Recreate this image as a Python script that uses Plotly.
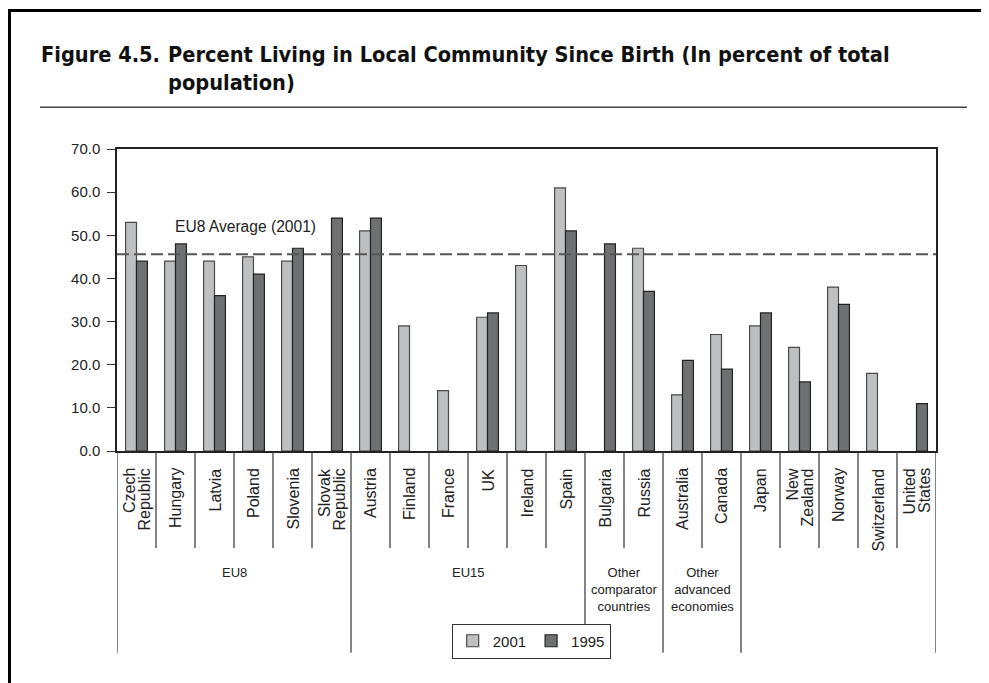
import plotly.graph_objects as go

countries = ["Czech<br>Republic", "Hungary", "Latvia", "Poland", "Slovenia", "Slovak<br>Republic",
             "Austria", "Finland", "France", "UK", "Ireland", "Spain",
             "Bulgaria", "Russia", "Australia", "Canada",
             "Japan", "New<br>Zealand", "Norway", "Switzerland", "United<br>States"]
v2001 = [53, 44, 44, 45, 44, None, 51, 29, 14, 31, 43, 61, None, 47, 13, 27, 29, 24, 38, 18, None]
v1995 = [44, 48, 36, 41, 47, 54, 54, None, None, 32, None, 51, 48, 37, 21, 19, 32, 16, 34, None, 11]
eu8_avg_2001 = 45.6
groups = ["EU8", "EU15", "Other<br>comparator<br>countries", "Other<br>advanced<br>economies", ""]
group_sizes = [6, 6, 2, 2, 5]
y_ticks = [0, 10, 20, 30, 40, 50, 60, 70]

# page body has an 8px margin; work in screen coordinates and offset
OFF = 8
W, H = 989 - OFF, 683 - OFF
PL, PR, PT, PB = 117, 936, 149, 451  # plot area in screen coords
L, T = PL - OFF, PT - OFF
R, B = W - (PR - OFF), H - (PB - OFF)
PW, PH = PR - PL, PB - PT


def px(x):
    return (x - PL) / PW


def py(y):
    return (PB - y) / PH


AR = "Liberation Sans, Arial, sans-serif"
TF = "Liberation Sans Narrow, DejaVu Sans Condensed, Arial Narrow, sans-serif"

cats = [c.replace("<br>", " ") for c in countries]

fig = go.Figure()
fig.add_bar(x=cats, y=v2001, name="2001",
            marker=dict(color="#bebfc1", line=dict(color="#4a4a4a", width=1.2)))
fig.add_bar(x=cats, y=v1995, name="1995",
            marker=dict(color="#6f7072", line=dict(color="#222222", width=1.2)))

shapes = []
bounds_group = [-0.5]
acc = -0.5
for s in group_sizes:
    acc += s
    bounds_group.append(acc)
for i in range(len(countries) + 1):
    b = i - 0.5
    long = b in bounds_group
    shapes.append(dict(type="line", xref="x", yref="paper", x0=b, x1=b, y0=0,
                       y1=py(652.7) if long else py(548), line=dict(color="#333", width=1.2)))
shapes.append(dict(type="line", xref="paper", yref="y", x0=0, x1=1, y0=eu8_avg_2001, y1=eu8_avg_2001,
                   line=dict(color="#555", width=2, dash="12px,5px"), layer="above"))
# frame
shapes.append(dict(type="line", xref="paper", yref="paper", x0=px(8), x1=px(1000), y0=py(10.5), y1=py(10.5),
                   line=dict(color="black", width=3)))
shapes.append(dict(type="line", xref="paper", yref="paper", x0=px(9.5), x1=px(9.5), y0=py(9), y1=py(700),
                   line=dict(color="black", width=3)))
# title rule
shapes.append(dict(type="line", xref="paper", yref="paper", x0=px(40), x1=px(967), y0=py(107.3), y1=py(107.3),
                   line=dict(color="#444", width=1.5)))

annotations = []
TS = 21.6
annotations.append(dict(text="<b>Figure 4.5.</b>", xref="paper", yref="paper", x=px(39), y=py(55),
                        xanchor="left", yanchor="middle", showarrow=False,
                        font=dict(family=TF, size=TS, color="#111")))
annotations.append(dict(text="<b>Percent Living in Local Community Since Birth (In percent of total</b>",
                        xref="paper", yref="paper", x=px(166), y=py(55),
                        xanchor="left", yanchor="middle", showarrow=False,
                        font=dict(family=TF, size=TS, color="#111")))
annotations.append(dict(text="<b>population)</b>", xref="paper", yref="paper", x=px(166), y=py(82.5),
                        xanchor="left", yanchor="middle", showarrow=False,
                        font=dict(family=TF, size=TS, color="#111")))
annotations.append(dict(text="EU8 Average (2001)", xref="paper", yref="paper", x=px(245), y=py(226.7),
                        xanchor="center", yanchor="middle", showarrow=False,
                        font=dict(family=AR, size=15.6, color="#222")))
# category labels (rotated, end-aligned at the top)
for i, name in enumerate(countries):
    parts = name.split("<br>")
    n = len(parts)
    for k, p in enumerate(parts):
        annotations.append(dict(text=p, xref="x", yref="paper", x=i, y=py(466.5),
                                xshift=(k - (n - 1) / 2) * 15, textangle=-90,
                                xanchor="center", yanchor="top", showarrow=False,
                                font=dict(family=AR, size=16, color="#222")))
start = 0
for g, s in zip(groups, group_sizes):
    c = start + (s - 1) / 2
    start += s
    if g:
        annotations.append(dict(text=g, xref="x", yref="paper", x=c, y=py(563), xanchor="center",
                                yanchor="top", showarrow=False,
                                font=dict(family=AR, size=13, color="#222")))

fig.update_layout(
    width=W, height=H, margin=dict(l=L, r=R, t=T, b=B, autoexpand=False),
    paper_bgcolor="white", plot_bgcolor="white",
    barmode="group", bargap=0.44, bargroupgap=0,
    showlegend=True,
    legend=dict(orientation="h", x=px(451.7), y=py(641), xanchor="left", yanchor="middle",
                bordercolor="#333", borderwidth=1, bgcolor="white", itemwidth=30,
                font=dict(family=AR, size=15, color="#222"), traceorder="normal"),
    shapes=shapes, annotations=annotations,
    font=dict(family=AR, color="#222"),
)
fig.update_xaxes(type="category", range=[-0.5, len(countries) - 0.5], showline=True, linecolor="#222",
                 linewidth=1.5, mirror=True, ticks="", showticklabels=False, showgrid=False)
fig.update_yaxes(range=[0, 70], tickvals=y_ticks, tickformat=".1f", ticks="outside", ticklen=8,
                 tickcolor="#333", showline=True, linecolor="#222", linewidth=1.5, mirror=True,
                 showgrid=False, zeroline=False, ticklabelstandoff=4,
                 tickfont=dict(family=AR, size=15, color="#222"))

fig.write_html("out.html")
